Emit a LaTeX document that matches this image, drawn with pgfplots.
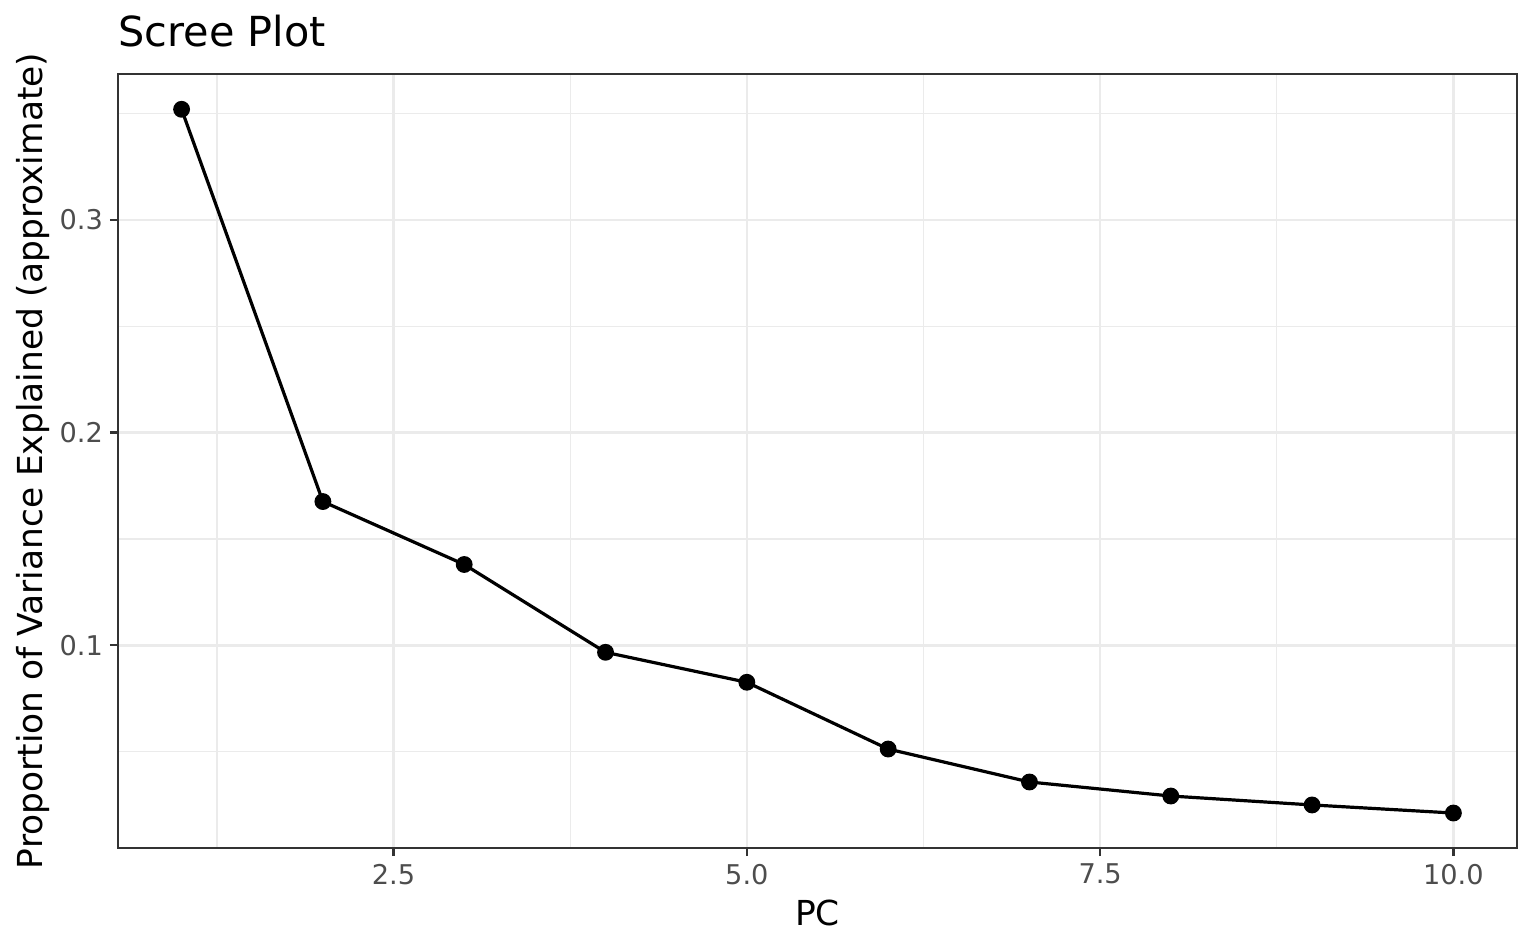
\documentclass[border=0pt]{standalone}
\usepackage{fontspec}
\setmainfont{DejaVu Sans}
\usepackage{pgfplots}
\pgfplotsset{compat=1.18}
\definecolor{gridmaj}{HTML}{EBEBEB}
\definecolor{ticklab}{HTML}{4D4D4D}
\definecolor{frame}{HTML}{333333}
\begin{document}
\begin{tikzpicture}
\path[use as bounding box] (-59pt,-50.5pt) rectangle (709pt,424pt);
\begin{axis}[
  at={(0pt,0pt)}, anchor=south west,
  scale only axis, width=699.5pt, height=387pt,
  xmin=0.55, xmax=10.45, ymin=0.00465, ymax=0.3687,
  xtick={2.5,5,7.5,10},
  xticklabels={2.5,5.0,7.5,10.0},
  ytick={0.1,0.2,0.3},
  yticklabels={0.1,0.2,0.3},
  minor xtick={1.25,3.75,6.25,8.75},
  minor ytick={0.05,0.15,0.25,0.35},
  grid=both,
  major grid style={gridmaj, line width=1.3pt},
  minor grid style={gridmaj, line width=0.65pt},
  axis line style={frame, line width=0.9pt},
  tick style={frame, line width=1.2pt},
  minor tick length=0pt,
  major tick length=4pt,
  tick align=outside,
  xtick pos=bottom, ytick pos=left,
  ticklabel style={font=\fontsize{13.6}{15}\selectfont, text=ticklab},
  xticklabel style={yshift=-0.5pt},
  /pgf/number format/assume math mode=true,
  clip=false,
]
\addplot[black, line width=1.6pt, mark=*, mark size=3.4pt, mark options={fill=black}] coordinates {
  (1,0.3521) (2,0.1676) (3,0.1380) (4,0.0967) (5,0.0826)
  (6,0.0512) (7,0.0357) (8,0.0291) (9,0.0249) (10,0.0211)
};
\end{axis}
\node[anchor=base west, inner sep=0pt, font=\fontsize{20.7}{24}\selectfont] at (0pt,400.5pt) {Scree Plot};
\node[anchor=base, inner sep=0pt, font=\fontsize{17.2}{20}\selectfont] at (349.75pt,-38.5pt) {PC};
\node[anchor=base, rotate=90, inner sep=0pt, font=\fontsize{17.2}{20}\selectfont] at (-37.5pt,193.5pt) {Proportion of Variance Explained (approximate)};
\end{tikzpicture}
\end{document}
